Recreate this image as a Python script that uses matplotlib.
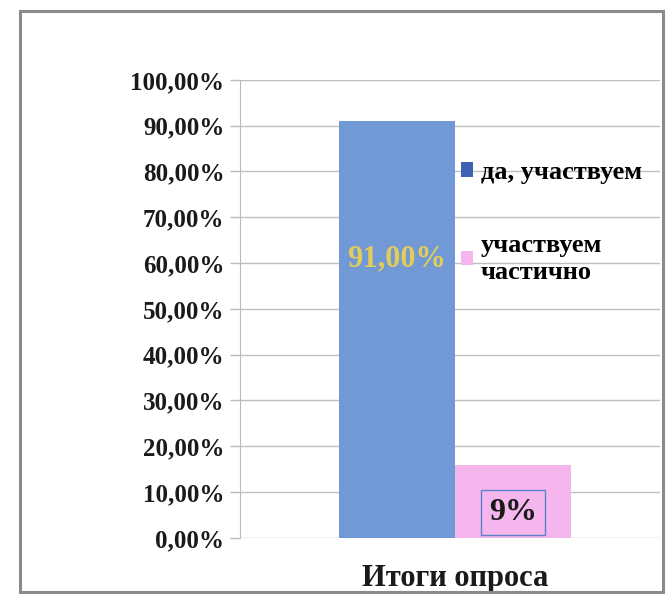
import matplotlib
matplotlib.use("Agg")
import matplotlib.pyplot as plt
from matplotlib.patches import Rectangle, Patch
from matplotlib.ticker import FuncFormatter

# ---- data ----
category = "Итоги опроса"
series_names = ["да, участвуем", "участвуем\nчастично"]
series_values = [91.0, 16.0]          # bar heights as drawn (%)
value_labels = ["91,00%", "9%"]
yticks = [0, 10, 20, 30, 40, 50, 60, 70, 80, 90, 100]

colors = ["#7099D6", "#F5B6EE"]
legend_colors = ["#3D62B3", "#F5B6EE"]

plt.rcParams['font.family'] = ['Liberation Serif', 'DejaVu Serif']

fig = plt.figure(figsize=(6.66, 6.05), dpi=100)
fig.patch.set_facecolor("white")

# outer chart frame
fig.patches.append(Rectangle((0.030, 0.022), 0.966, 0.960, transform=fig.transFigure,
                             fill=False, edgecolor="#8A8A8A", linewidth=2.2, zorder=0))

ax = fig.add_axes([0.360, 0.111, 0.631, 0.757])

w = 1.0
offsets = [-w / 2, w / 2]
for i, (v, c) in enumerate(zip(series_values, colors)):
    ax.bar(offsets[i], v, width=w, color=c, zorder=3)

ax.set_xlim(-1.853, 1.767)
ax.set_ylim(0, 100)
ax.set_yticks(yticks)
ax.yaxis.set_major_formatter(FuncFormatter(lambda v, p: f"{v:.2f}".replace(".", ",") + "%"))
ax.set_xticks([0])
ax.set_xticklabels([category])
ax.tick_params(axis="x", length=0, pad=19, labelsize=22)
ax.tick_params(axis="y", length=7, width=1, color="#BBBBBB", pad=4, labelsize=18)
for lab in ax.get_yticklabels() + ax.get_xticklabels():
    lab.set_fontweight("bold")
    lab.set_color("#1A1A1A")

ax.grid(axis="y", color="#BFBFBF", linewidth=1, zorder=0)
for s in ["top", "right", "bottom"]:
    ax.spines[s].set_visible(False)
ax.spines["left"].set_color("#BBBBBB")

# data labels
ax.text(offsets[0], 61, value_labels[0], ha="center", va="center",
        fontsize=22, fontweight="bold", color="#E3CC5A", zorder=5)
ax.text(offsets[1], 5.5, value_labels[1], ha="center", va="center",
        fontsize=23, fontweight="bold", color="#1A1A1A", zorder=5,
        bbox=dict(boxstyle="square,pad=0.25", facecolor="none", edgecolor="#5A82C8", linewidth=1))

handles = [Patch(facecolor=legend_colors[i], edgecolor="none", label=series_names[i]) for i in range(2)]
ax.legend(handles=handles, loc="upper left", bbox_to_anchor=(0.47, 0.875),
          frameon=False, handlelength=0.45, handleheight=0.45, handletextpad=0.3,
          labelspacing=1.9, prop=dict(size=19, weight="bold"))

fig.savefig("out.png", dpi=100, facecolor="white")
